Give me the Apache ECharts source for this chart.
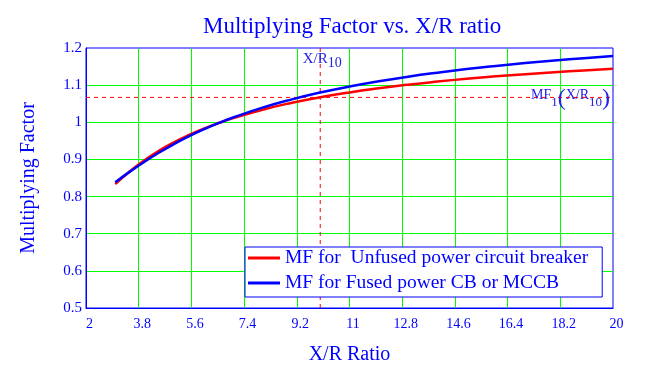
<!DOCTYPE html>
<html><head><meta charset="utf-8">
<script src="https://cdn.jsdelivr.net/npm/echarts@6/dist/echarts.min.js"></script>
<style>html,body{margin:0;padding:0;background:#fff}#c{width:646px;height:373px}</style>
</head><body><div id="c"></div>
<script>
const xrValues   = [3, 3.5, 4, 4.5, 5, 5.5, 6, 6.6, 7, 8, 9, 10, 11, 12, 13, 14, 15, 16, 17, 18, 19, 20];
const mfUnfused  = [0.8333, 0.8682, 0.8980, 0.9237, 0.9459, 0.9652, 0.9822, 1.0000, 1.0106, 1.0333, 1.0519, 1.0673, 1.0804, 1.0915, 1.1012, 1.1096, 1.1171, 1.1237, 1.1295, 1.1348, 1.1396, 1.1440];
const mfFused    = [0.8387, 0.8671, 0.8939, 0.9186, 0.9411, 0.9615, 0.9800, 1.0000, 1.0121, 1.0387, 1.0611, 1.0801, 1.0963, 1.1104, 1.1227, 1.1335, 1.1432, 1.1517, 1.1594, 1.1664, 1.1727, 1.1785];
const xTickLabels = ['2', '3.8', '5.6', '7.4', '9.2', '11', '12.8', '14.6', '16.4', '18.2', '20'];
const yTickLabels = ['0.5', '0.6', '0.7', '0.8', '0.9', '1', '1.1', '1.2'];
const seriesNames = ['MF for  Unfused power circuit breaker', 'MF for Fused power CB or MCCB'];
const refXR = 10;
const refMF = 1.067;
const xMin = 2, xMax = 20, yMin = 0.5, yMax = 1.2;

const XSTEP = 1.8;
const shift = v => +(v - xMin).toFixed(6);
const FONT = '"Liberation Serif","Times New Roman",serif';
const BLUE = '#0000ff';
const ANN = '#2222e6';

const refStyle = () => ({color: '#ff0000', type: [4, 4], width: 1});

const chart = echarts.init(document.getElementById('c'), null, {renderer: 'canvas'});
chart.setOption({
  animation: false,
  backgroundColor: '#fff',
  title: {
    text: 'Multiplying Factor vs. X/R ratio',
    left: 198, top: 10,
    textStyle: {fontFamily: FONT, fontSize: 23, fontWeight: 'normal', color: BLUE}
  },
  graphic: [{
    type: 'rect', left: 245, top: 247, z: 50, silent: true,
    shape: {width: 356, height: 50},
    style: {fill: '#ffffff', lineWidth: 0}
  }],
  legend: {
    data: seriesNames,
    orient: 'vertical', left: 245, top: 247, z: 100,
    backgroundColor: '#fff', borderColor: BLUE, borderWidth: 1,
    padding: [1, 14, 4, 3], itemGap: 5,
    itemWidth: 32, itemHeight: 3, icon: 'rect',
    textStyle: {fontFamily: FONT, fontSize: 19.5, color: BLUE}
  },
  grid: {left: 86, right: 33, top: 48, bottom: 65, show: true, borderColor: BLUE, borderWidth: 1, containLabel: false, outerBoundsMode: 'none'},
  xAxis: {
    type: 'value', min: 0, max: shift(xMax), interval: XSTEP,
    name: 'X/R Ratio', nameLocation: 'middle', nameGap: 37,
    nameTextStyle: {fontFamily: FONT, fontSize: 20, color: BLUE},
    axisLine: {show: true, lineStyle: {color: BLUE, width: 1}},
    axisTick: {show: false},
    axisLabel: {fontFamily: FONT, fontSize: 14, color: BLUE, margin: 9, padding: [0, 0, 0, 7],
      formatter: v => xTickLabels[Math.round(v / XSTEP)]},
    splitLine: {show: true, showMinLine: false, showMaxLine: false, lineStyle: {color: '#00ff00', width: 1}}
  },
  yAxis: {
    type: 'value', min: yMin, max: yMax, interval: 0.1,
    name: 'Multiplying Factor', nameLocation: 'middle', nameGap: 47, nameRotate: 90,
    nameTextStyle: {fontFamily: FONT, fontSize: 20, color: BLUE},
    axisLine: {show: true, lineStyle: {color: BLUE, width: 1}},
    axisTick: {show: false},
    axisLabel: {fontFamily: FONT, fontSize: 15, color: BLUE, margin: 4,
      formatter: v => yTickLabels[Math.round((v - yMin) / 0.1)]},
    splitLine: {show: true, showMinLine: false, showMaxLine: false, lineStyle: {color: '#00ff00', width: 1}}
  },
  series: [
    {
      name: 'refV', type: 'line', showSymbol: false, silent: true, z: 1,
      data: [[shift(refXR), yMin], [shift(refXR), yMax]],
      lineStyle: refStyle(), itemStyle: {color: '#ff0000'}
    },
    {
      name: 'refH', type: 'line', showSymbol: false, silent: true, z: 1,
      data: [[shift(xMin), refMF], [shift(xMax), refMF]],
      lineStyle: refStyle(), itemStyle: {color: '#ff0000'}
    },
    {
      name: seriesNames[0], type: 'line', smooth: true, showSymbol: false,
      data: xrValues.map((x, i) => [shift(x), mfUnfused[i]]),
      lineStyle: {color: '#ff0000', width: 2.5}, itemStyle: {color: '#ff0000'}, z: 3,
      markPoint: {
        silent: true, symbolSize: 0,
        data: [
          {coord: [shift(refXR), yMax],
           label: {show: true, position: 'bottom', distance: 1, offset: [2, 0],
             formatter: '{a|X/R}{s|10}',
             rich: {a: {fontFamily: FONT, fontSize: 15, color: ANN},
                    s: {fontFamily: FONT, fontSize: 14, color: ANN, padding: [7, 0, 0, 0]}}}},
          {coord: [shift(xMax), refMF],
           label: {show: true, position: 'left', distance: 3, offset: [0, 0],
             formatter: '{a|MF}{s|1}{p|(}{a|X/R}{s|10}{p|)}',
             rich: {a: {fontFamily: FONT, fontSize: 14, color: ANN, padding: [0, 0, 4, 0]},
                    s: {fontFamily: FONT, fontSize: 13, color: ANN, padding: [10, 0, 0, 0]},
                    p: {fontFamily: FONT, fontSize: 24, color: ANN, padding: [3, 0, 0, 0]}}}}
        ]
      }
    },
    {
      name: seriesNames[1], type: 'line', smooth: true, showSymbol: false,
      data: xrValues.map((x, i) => [shift(x), mfFused[i]]),
      lineStyle: {color: '#0000ff', width: 2.5}, itemStyle: {color: '#0000ff'}, z: 3
    }
  ]
});
</script></body></html>
